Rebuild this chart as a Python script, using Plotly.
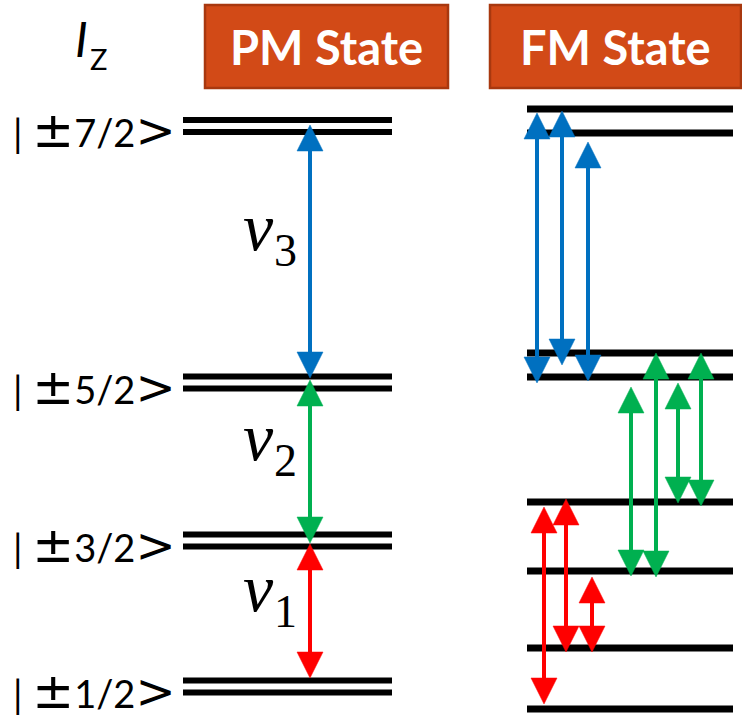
import plotly.graph_objects as go

# ---------------- data ----------------
# PM state: doubly-degenerate levels (vertical position, top of figure = 0)
pm_labels = ["7/2", "5/2", "3/2", "1/2"]
pm_levels = [126, 382.5, 540.5, 686.5]
# FM state: split levels
fm_levels = [109, 133, 353, 377, 502, 571, 648, 709]

# PM transitions: (x, top tip, bottom tip)
pm_arrow_x = [310, 310, 310]
pm_arrow_top = [125, 380, 544]
pm_arrow_bot = [378, 543, 678]
pm_arrow_names = ["3", "2", "1"]

# FM transitions
fm_blue_x = [537, 562, 588]
fm_blue_top = [113, 111, 142]
fm_blue_bot = [383, 365, 381]

fm_green_x = [631, 656, 678, 701]
fm_green_top = [387, 353, 383, 353]
fm_green_bot = [576, 577, 503, 506]

fm_red_x = [544, 566, 592]
fm_red_top = [507, 499, 577]
fm_red_bot = [704, 652, 652]

headers = ["PM State", "FM State"]

# ---------------- style ----------------
W, H = 742, 715
BLUE, GREEN, RED = "#0070C0", "#00B050", "#FF0000"
HEAD_W, HEAD_L = 26, 26
PM_X0, PM_X1 = 183, 392
FM_X0, FM_X1 = 527, 733
DOUBLET = 6

fig = go.Figure()

# PM double lines
xs, ys = [], []
for y in pm_levels:
    for dy in (-DOUBLET, DOUBLET):
        xs += [PM_X0, PM_X1, None]
        ys += [y + dy, y + dy, None]
fig.add_trace(go.Scatter(x=xs, y=ys, mode="lines",
                         line=dict(color="black", width=6), hoverinfo="skip"))

# FM lines
xs, ys = [], []
for y in fm_levels:
    xs += [FM_X0, FM_X1, None]
    ys += [y, y, None]
fig.add_trace(go.Scatter(x=xs, y=ys, mode="lines",
                         line=dict(color="black", width=7), hoverinfo="skip"))


def add_arrows(xl, tops, bots, color):
    sx, sy, hx, hy = [], [], [], []
    for x, t, b in zip(xl, tops, bots):
        sx += [x, x, None]
        sy += [t + HEAD_L - 2, b - HEAD_L + 2, None]
        hx += [x - HEAD_W / 2, x + HEAD_W / 2, x, x - HEAD_W / 2, None]
        hy += [t + HEAD_L, t + HEAD_L, t, t + HEAD_L, None]
        hx += [x - HEAD_W / 2, x + HEAD_W / 2, x, x - HEAD_W / 2, None]
        hy += [b - HEAD_L, b - HEAD_L, b, b - HEAD_L, None]
    fig.add_trace(go.Scatter(x=sx, y=sy, mode="lines",
                             line=dict(color=color, width=4), hoverinfo="skip"))
    fig.add_trace(go.Scatter(x=hx, y=hy, mode="lines", fill="toself",
                             fillcolor=color, line=dict(color=color, width=0.5),
                             hoverinfo="skip"))


pm_colors = [BLUE, GREEN, RED]
for i in range(3):
    add_arrows([pm_arrow_x[i]], [pm_arrow_top[i]], [pm_arrow_bot[i]], pm_colors[i])
add_arrows(fm_blue_x, fm_blue_top, fm_blue_bot, BLUE)
add_arrows(fm_green_x, fm_green_top, fm_green_bot, GREEN)
add_arrows(fm_red_x, fm_red_top, fm_red_bot, RED)

# Header boxes
box_x = [(205, 448), (490, 741)]
for (x0, x1), txt in zip(box_x, headers):
    fig.add_shape(type="rect", x0=x0, x1=x1, y0=5, y1=88,
                  fillcolor="#D24A17", line=dict(color="#A8380F", width=2.5))
    fig.add_annotation(x=(x0 + x1) / 2, y=47, text="<b>" + txt + "</b>",
                       showarrow=False, font=dict(family="Lato", size=47, color="white"))

# I_z label
fig.add_annotation(x=81, y=38, text="<i>I</i>", showarrow=False,
                   font=dict(family="Lato", size=48, color="black"))
fig.add_annotation(x=98, y=58, text="Z", showarrow=False,
                   font=dict(family="Lato", size=29, color="black"))

# level labels
SYM = '<span style="font-family:\'DejaVu Sans\';font-size:{}px">{}</span>'
for lab, y in zip(pm_labels, pm_levels):
    txt = "| " + SYM.format(50, "\u00b1") + lab + SYM.format(48, "&gt;")
    fig.add_annotation(x=178, y=y + 4, text=txt,
                       xanchor="right", showarrow=False,
                       font=dict(family="Lato", size=38, color="black"))

# nu labels
nu_pos = [(258, 227), (258, 437), (258, 588)]
for (x, y), n in zip(nu_pos, pm_arrow_names):
    fig.add_annotation(x=x, y=y, text="<i>\u03bd</i>", showarrow=False,
                       font=dict(family="Liberation Serif", size=68, color="black"))
    fig.add_annotation(x=x + 27, y=y + 23, text=n, showarrow=False,
                       font=dict(family="Liberation Serif", size=46, color="black"))

fig.update_layout(
    width=W, height=H, margin=dict(l=0, r=0, t=0, b=0),
    plot_bgcolor="white", paper_bgcolor="white", showlegend=False,
    xaxis=dict(range=[0, W], visible=False, fixedrange=True),
    yaxis=dict(range=[H, 0], visible=False, fixedrange=True),
)
fig.write_html("out.html")
